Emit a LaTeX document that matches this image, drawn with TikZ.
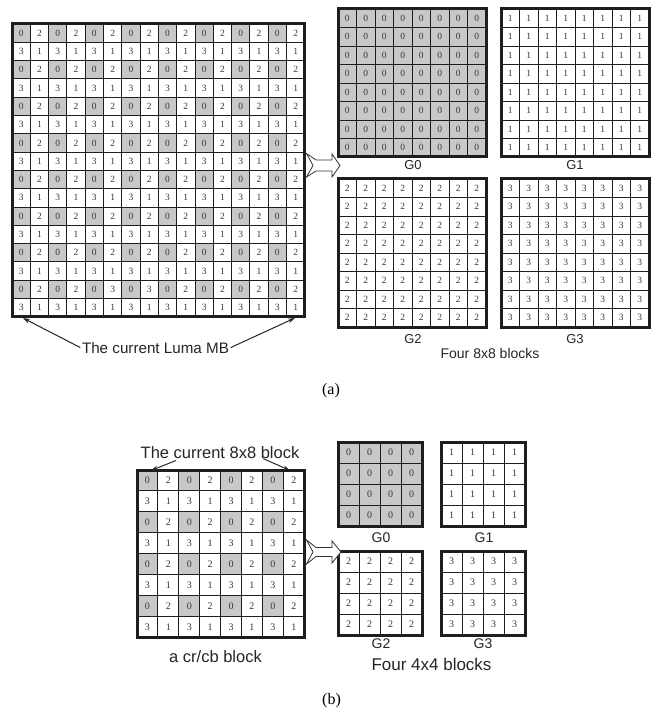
\documentclass[tikz,border=0pt]{standalone}
\usepackage{fontspec}
\setmainfont{Liberation Serif}
\newfontfamily\labfont{Liberation Sans}
\usetikzlibrary{arrows.meta}
\definecolor{cellgray}{RGB}{200,200,200}
\definecolor{gridline}{RGB}{30,30,30}
\definecolor{digit}{RGB}{55,55,55}
\tikzset{
  cellbox/.style={draw=gridline, line width=0.9pt, inner sep=0pt, outer sep=0pt, text=digit},
  outerframe/.style={draw=gridline, line width=3pt},
  txtlab/.style={text=black!85, inner sep=0pt, anchor=base},
  pointer/.style={draw=black!85, line width=1pt, -{Stealth[length=7pt,width=4.5pt]}},
  bigarrow/.style={draw=black!80, line width=0.8pt, fill=white, line join=miter},
  paren/.style={text=black, inner sep=0pt, font=\fontsize{16}{18}\selectfont}
}
% mixed grid: name, x0, y0, cell, n-1, fontsize
\newcommand{\mixgrid}[6]{%
 \foreach \r in {0,...,#5}{%
  \foreach \c in {0,...,#5}{%
   \pgfmathtruncatemacro{\v}{(1-mod(\r,2))*2*mod(\c,2)+mod(\r,2)*(3-2*mod(\c,2))}%
   \ifnum\r=14 \ifnum\c=5 \def\v{3}\fi\ifnum\c=7 \def\v{3}\fi\fi
   \ifnum\v=0 \def\cf{cellgray}\else\def\cf{white}\fi
   \node[cellbox, fill=\cf, minimum size=#4pt, font=\fontsize{#6}{#6}\selectfont] (#1-\r-\c) at ({#2+(\c+0.5)*#4},{#3+(\r+0.5)*#4}) {\v};
  }}%
 \draw[outerframe] (#1-0-0.north west) rectangle (#1-#5-#5.south east);
}
% uniform grid: name, x0, y0, cell, n-1, fontsize, value, fill
\newcommand{\unigrid}[8]{%
 \foreach \r in {0,...,#5}{%
  \foreach \c in {0,...,#5}{%
   \node[cellbox, fill=#8, minimum size=#4pt, font=\fontsize{#6}{#6}\selectfont] (#1-\r-\c) at ({#2+(\c+0.5)*#4},{#3+(\r+0.5)*#4}) {#7};
  }}%
 \draw[outerframe] (#1-0-0.north west) rectangle (#1-#5-#5.south east);
}
\begin{document}
\begin{tikzpicture}[x=1pt,y=-1pt]
\useasboundingbox (0,0) rectangle (652,711);
\fill[white] (0,0) rectangle (652,711);

% ---------------- (a) ----------------
\mixgrid{MB}{12}{24}{18.3}{15}{9.5}
\unigrid{AG0}{338}{9}{18.5}{7}{9.5}{0}{cellgray}
\unigrid{AG1}{501}{9}{18.5}{7}{9.5}{1}{white}
\unigrid{AG2}{338}{179}{18.5}{7}{9.5}{2}{white}
\unigrid{AG3}{501}{179}{18.5}{7}{9.5}{3}{white}

\draw[bigarrow] (306.5,153.5) -- (316,160) -- (332,160) -- (332,154) -- (340,165.5)
  -- (332,177) -- (332,171) -- (316,171) -- (306.5,177) -- (313,165.5) -- cycle;

\node[txtlab, font=\labfont\fontsize{13}{15}\selectfont] (aG0lbl) at (413,170) {G0};
\node[txtlab, font=\labfont\fontsize{13}{15}\selectfont] (aG1lbl) at (575,170) {G1};
\node[txtlab, font=\labfont\fontsize{13}{15}\selectfont] (aG2lbl) at (413,343) {G2};
\node[txtlab, font=\labfont\fontsize{13}{15}\selectfont] (aG3lbl) at (575,343) {G3};
\node[txtlab, font=\labfont\fontsize{14}{16}\selectfont] (aFour) at (490,358) {Four 8x8 blocks};

\node[txtlab, font=\labfont\fontsize{15.2}{18}\selectfont] (lumaLbl) at (155.5,353) {The current Luma MB};
\coordinate (lumaTipL) at (23,318);
\coordinate (lumaTipR) at (295,318);
\draw[pointer] ([xshift=-1.5pt]lumaLbl.west) -- (lumaTipL);
\draw[pointer] ([xshift=1.5pt]lumaLbl.east) -- (lumaTipR);

\node[paren] (capA) at (331,391) {(a)};

% ---------------- (b) ----------------
\mixgrid{CB}{137}{470}{20.9}{7}{10}
\unigrid{BG0}{338}{442}{21}{3}{10}{0}{cellgray}
\unigrid{BG1}{441}{442}{21}{3}{10}{1}{white}
\unigrid{BG2}{338}{551}{21}{3}{10}{2}{white}
\unigrid{BG3}{441}{551}{21}{3}{10}{3}{white}

\draw[bigarrow] (306.5,540) -- (316,547.5) -- (332,547.5) -- (332,541) -- (341,552)
  -- (332,563) -- (332,556.5) -- (316,556.5) -- (306.5,564) -- (313,552) -- cycle;

\node[txtlab, font=\labfont\fontsize{14}{16}\selectfont] (bG0lbl) at (381,542) {G0};
\node[txtlab, font=\labfont\fontsize{14}{16}\selectfont] (bG1lbl) at (484,542) {G1};
\node[txtlab, font=\labfont\fontsize{14}{16}\selectfont] (bG2lbl) at (381,648.5) {G2};
\node[txtlab, font=\labfont\fontsize{14}{16}\selectfont] (bG3lbl) at (483,648.5) {G3};
\node[txtlab, font=\labfont\fontsize{17}{20}\selectfont] (bFour) at (431.5,670) {Four 4x4 blocks};

\node[txtlab, font=\labfont\fontsize{16.5}{19}\selectfont] (blkLbl) at (220,458.5) {The current 8x8 block};
\coordinate (blkStartL) at (176,460.5);
\coordinate (blkStartR) at (263,458.5);
\coordinate (blkTipL) at (151,470.5);
\coordinate (blkTipR) at (290,470.5);
\draw[pointer] (blkStartL) -- (blkTipL);
\draw[pointer] (blkStartR) -- (blkTipR);

\node[txtlab, font=\labfont\fontsize{16.5}{19}\selectfont] (cbLbl) at (215.5,662) {a cr/cb block};

\node[paren] (capB) at (331.5,701) {(b)};
\end{tikzpicture}
\end{document}
